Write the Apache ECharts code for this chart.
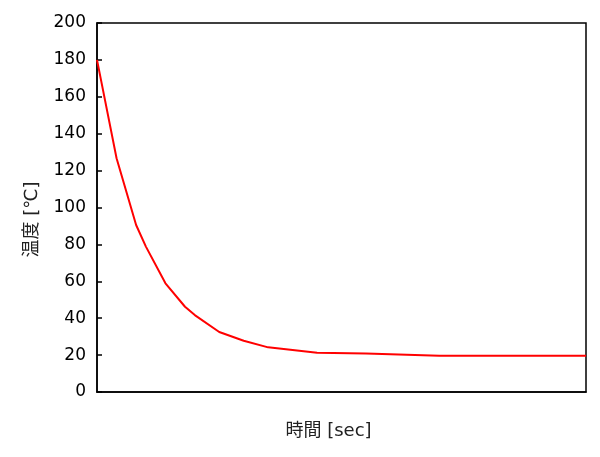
<!DOCTYPE html>
<html>
<head>
<meta charset="utf-8">
<script src="https://cdn.jsdelivr.net/npm/echarts@6/dist/echarts.min.js"></script>
<style>html,body{margin:0;padding:0;background:#fff;}#c{width:600px;height:457px;}</style>
</head>
<body>
<div id="c"></div>
<script>
var timeSec = [0, 40, 80, 100, 140, 180, 200, 250, 300, 350, 450, 550, 700, 1000];
var tempC = [180, 126.7, 90.5, 78.8, 58.9, 46.2, 41.7, 32.5, 27.8, 24.2, 21.3, 20.8, 19.7, 19.7];
var yTicks = [0, 20, 40, 60, 80, 100, 120, 140, 160, 180, 200];

var chart = echarts.init(document.getElementById('c'));
chart.setOption({
  animation: false,
  grid: { left: 97, right: 14, top: 23, bottom: 65, show: true, borderColor: '#000', borderWidth: 1.5, backgroundColor: 'transparent' },
  xAxis: {
    type: 'value', min: 0, max: 1000,
    name: '時間 [sec]', nameLocation: 'middle', nameGap: 30,
    nameTextStyle: { fontFamily: 'DejaVu Sans, Noto Sans CJK JP', fontSize: 18, color: '#222', padding: [0, 26, 0, 0] },
    axisLine: { show: true, lineStyle: { color: '#000', width: 1.5 } },
    axisTick: { show: false }, axisLabel: { show: false }, splitLine: { show: false }
  },
  yAxis: {
    type: 'value', min: 0, max: 200, interval: 20,
    name: '温度 [℃]', nameLocation: 'middle', nameGap: 56, nameRotate: 90,
    nameTextStyle: { fontFamily: 'DejaVu Sans, Noto Sans CJK JP', fontSize: 18, color: '#222', padding: [0, 24, 0, 0] },
    axisLine: { show: true, lineStyle: { color: '#000', width: 1.5 } },
    axisTick: { show: true, inside: true, length: 5, lineStyle: { color: '#000', width: 1.5 } },
    axisLabel: { color: '#000', fontSize: 17, fontFamily: 'DejaVu Sans', margin: 11,
      formatter: function (v) { return yTicks.indexOf(v) >= 0 ? String(v) : ''; } },
    splitLine: { show: false }
  },
  series: [{
    type: 'line', data: timeSec.map(function (t, i) { return [t, tempC[i]]; }),
    showSymbol: false, lineStyle: { color: '#ff0000', width: 2 }, color: '#ff0000'
  }]
});
</script>
</body>
</html>
